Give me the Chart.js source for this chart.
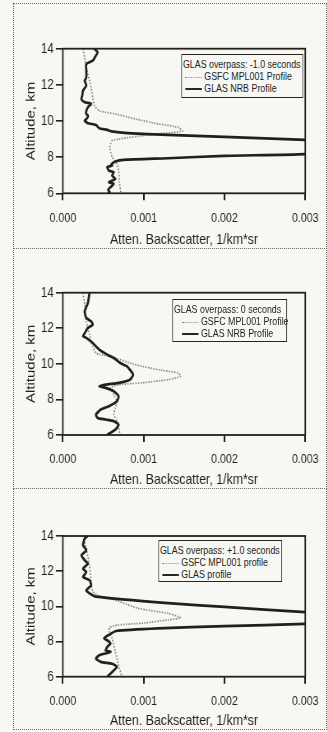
<!DOCTYPE html>
<html>
<head>
<meta charset="utf-8">
<script src="https://cdn.jsdelivr.net/npm/chart.js@4.4.1/dist/chart.umd.min.js"></script>
<style>
  body { margin: 0; background: #f7f7f4; width: 327px; height: 732px; overflow: hidden; position: relative;
         font-family: 'Liberation Sans', Arial, sans-serif; color: #221e17; }
  .panel { position: absolute; left: 14px; width: 312px; outline: 1px dotted #6d6a63; }
  /* the scanned figure is squeezed sideways: draw wide, then scale to 0.82 */
  .inner { position: absolute; left: 0; top: 0; width: 380.5px; height: 100%; transform: scaleX(0.82); transform-origin: 0 0; }
  .inner canvas { position: absolute; left: 0; top: 0; }
  .legend { position: absolute; border: 1.6px solid #2b261d; font-size: 10.8px; line-height: 12px;
            padding: 3px 1px 1px 1px; box-sizing: border-box; white-space: nowrap; background: #f7f7f4; }
  .legend .s { display: inline-block; width: 20px; vertical-align: middle; margin: 0 3px 0 3px; }
  .dot { border-top: 1.6px dotted #8a867e; }
  .sol { border-top: 2.2px solid #2b261d; }
</style>
</head>
<body>

<div class="panel" style="top:4px;height:244px">
  <div class="inner">
    <canvas id="c1"></canvas>
    <div class="legend" style="left:204px;top:50px;width:149px;height:44px">
      <div>GLAS overpass: -1.0 seconds</div>
      <div><span class="s dot"></span>GSFC MPL001 Profile</div>
      <div><span class="s sol"></span>GLAS NRB Profile</div>
    </div>
  </div>
</div>

<div class="panel" style="top:249px;height:239px">
  <div class="inner">
    <canvas id="c2"></canvas>
    <div class="legend" style="left:193px;top:50px;width:140px;height:43px">
      <div>GLAS overpass: 0 seconds</div>
      <div><span class="s dot" style="margin-left:10px"></span>GSFC MPL001 Profile</div>
      <div><span class="s sol" style="margin-left:10px"></span>GLAS NRB Profile</div>
    </div>
  </div>
</div>

<div class="panel" style="top:489px;height:240px">
  <div class="inner">
    <canvas id="c3"></canvas>
    <div class="legend" style="left:176px;top:51px;width:151px;height:42px">
      <div>GLAS overpass: +1.0 seconds</div>
      <div><span class="s dot"></span>GSFC MPL001 profile</div>
      <div><span class="s sol"></span>GLAS profile</div>
    </div>
  </div>
</div>

<script>
// backscatter values are in units of 1e-3 /km*sr, altitudes in km
const UNIT = 1e-3;
const xTicks = [0, 0.001, 0.002, 0.003];
const yTicks = [6, 8, 10, 12, 14];

// panel 1: -1.0 s
const altNrb1 = [14.0, 13.8, 13.55, 13.34, 13.15, 12.8, 12.4, 12.23, 11.96, 11.68, 11.4, 11.2, 11.04, 10.95, 10.76, 10.55,
                 10.39, 10.3, 10.15, 10.02, 9.88, 9.78, 9.6, 9.51, 9.43, 9.33, 9.23, 9.12, 8.96, 8.6, 8.17, 8.07, 7.94,
                 7.85, 7.76, 7.6, 7.54, 7.45, 7.26, 7.17, 6.98, 6.8, 6.62, 6.52, 6.34, 6.2, 6.07, 6.0];
const nrb1 = [0.39, 0.43, 0.40, 0.37, 0.29, 0.29, 0.29, 0.27, 0.29, 0.25, 0.24, 0.23, 0.27, 0.35, 0.31, 0.29,
              0.29, 0.31, 0.30, 0.27, 0.31, 0.41, 0.45, 0.55, 0.60, 0.80, 1.30, 2.0, 3.0, 4.5, 3.0, 2.0, 1.3,
              0.75, 0.65, 0.60, 0.61, 0.55, 0.57, 0.63, 0.61, 0.65, 0.57, 0.63, 0.59, 0.56, 0.58, 0.56];
const altMpl1 = [14.0, 13.5, 12.97, 12.6, 11.87, 11.3, 10.85, 10.57, 10.39, 10.12, 9.84, 9.66, 9.44, 9.29, 9.14,
                 8.92, 8.73, 8.55, 8.0, 7.7, 7.26, 6.6, 6.0];
const mpl1 = [0.25, 0.27, 0.29, 0.31, 0.35, 0.37, 0.39, 0.45, 0.65, 0.89, 1.18, 1.42, 1.48, 1.18, 0.90,
              0.61, 0.59, 0.58, 0.61, 0.66, 0.69, 0.70, 0.72];

// panel 2: 0 s
const altNrb2 = [14.0, 13.42, 12.95, 12.58, 12.39, 12.2, 12.02, 11.8, 11.55, 11.46, 11.17, 10.8, 10.52, 10.33, 10.05,
                 9.87, 9.67, 9.39, 9.11, 8.93, 8.83, 8.74, 8.65, 8.46, 8.18, 7.9, 7.62, 7.43, 7.15, 6.96, 6.87, 6.78,
                 6.58, 6.3, 6.02];
const nrb2 = [0.33, 0.31, 0.27, 0.29, 0.35, 0.37, 0.31, 0.28, 0.25, 0.29, 0.37, 0.45, 0.55, 0.63, 0.71,
              0.79, 0.83, 0.87, 0.83, 0.69, 0.53, 0.45, 0.53, 0.63, 0.69, 0.67, 0.57, 0.47, 0.41, 0.43, 0.53, 0.63,
              0.69, 0.65, 0.55];
const altMpl2 = [14.0, 13.33, 12.39, 11.64, 10.99, 10.61, 10.33, 9.96, 9.67, 9.49, 9.3, 9.11, 8.93, 8.83, 8.65,
                 8.27, 7.9, 7.52, 7.15, 6.78, 6.02];
const mpl2 = [0.25, 0.27, 0.29, 0.33, 0.37, 0.41, 0.65, 0.89, 1.18, 1.42, 1.46, 1.30, 0.97, 0.69, 0.59,
              0.63, 0.67, 0.65, 0.63, 0.67, 0.71];

// panel 3: +1.0 s
const altNrb3 = [14.0, 13.85, 13.47, 13.19, 12.9, 12.62, 12.43, 12.14, 11.95, 11.67, 11.48, 11.2, 10.91, 10.74, 10.55,
                 10.18, 9.97, 9.67, 9.35, 9.0, 8.88, 8.75, 8.6, 8.38, 8.19, 8.0, 7.88, 7.7, 7.5, 7.41, 7.22, 7.03,
                 6.84, 6.74, 6.56, 6.27, 6.0];
const nrb3 = [0.31, 0.27, 0.25, 0.29, 0.23, 0.27, 0.31, 0.25, 0.29, 0.25, 0.33, 0.35, 0.29, 0.33, 0.41,
              1.30, 2.0, 3.0, 4.5, 3.0, 2.0, 1.18, 0.66, 0.57, 0.51, 0.57, 0.59, 0.55, 0.53, 0.59, 0.45, 0.41,
              0.47, 0.61, 0.67, 0.61, 0.55];
const altMpl3 = [14.0, 13.28, 12.33, 11.4, 10.84, 10.55, 10.36, 9.89, 9.6, 9.35, 9.23, 9.05, 8.94, 8.8, 8.6,
                 8.16, 7.41, 6.65, 6.0];
const mpl3 = [0.25, 0.29, 0.33, 0.35, 0.37, 0.47, 0.65, 0.93, 1.30, 1.46, 1.30, 1.0, 0.68, 0.58, 0.57,
              0.61, 0.65, 0.69, 0.73];

const INK = '#241f18';
const GREY = '#8a867e';
const FONT = "'Liberation Sans', Arial, sans-serif";

const toPoints = (alts, vals) => alts.map((a, i) => ({ x: vals[i] * UNIT, y: a }));

// frame round the plot area (top and right sides too)
const plotBox = {
    id: 'plotBox',
    afterDatasetsDraw(chart) {
        const { ctx, chartArea: a } = chart;
        ctx.save();
        ctx.strokeStyle = INK;
        ctx.lineWidth = 1.8;
        ctx.strokeRect(a.left, a.top, a.right - a.left, a.bottom - a.top);
        ctx.restore();
    }
};

function profileChart(id, panelH, top, bottom, altN, nrb, altM, mpl) {
    const ctx = document.getElementById(id).getContext('2d');
    new Chart(ctx, {
        type: 'scatter',
        data: {
            datasets: [
                {
                    data: toPoints(altN, nrb),
                    showLine: true,
                    borderColor: INK,
                    borderWidth: 2.7,
                    pointRadius: 0,
                    tension: 0.2,
                },
                {
                    data: toPoints(altM, mpl),
                    showLine: true,
                    borderColor: GREY,
                    borderWidth: 1.7,
                    borderDash: [1.6, 1.6],
                    pointRadius: 0,
                    tension: 0.2,
                },
            ],
        },
        options: {
            responsive: true,
            maintainAspectRatio: false,
            animation: false,
            layout: { padding: { left: 0, top: top, right: 19, bottom: 0 } },
            plugins: { legend: { display: false }, tooltip: { enabled: false } },
            scales: {
                x: {
                    type: 'linear',
                    min: 0,
                    max: 0.003,
                    afterBuildTicks: (s) => { s.ticks = xTicks.map((v) => ({ value: v })); },
                    afterFit: (s) => { s.height = panelH - bottom; },
                    border: { display: false },
                    grid: { drawOnChartArea: false, tickLength: 7, color: INK, lineWidth: 2 },
                    ticks: {
                        color: INK,
                        padding: 10,
                        maxRotation: 0,
                        font: { family: FONT, size: 13 },
                        callback: (v) => v.toFixed(3),
                    },
                    title: {
                        display: true,
                        text: 'Atten. Backscatter, 1/km*sr',
                        color: INK,
                        font: { family: FONT, size: 15, lineHeight: 1 },
                        padding: { top: 0, bottom: 1 },
                    },
                },
                y: {
                    type: 'linear',
                    min: 6,
                    max: 14,
                    afterBuildTicks: (s) => { s.ticks = yTicks.map((v) => ({ value: v })); },
                    afterFit: (s) => { s.width = 59.4; },
                    border: { display: false },
                    grid: { drawOnChartArea: false, tickLength: 8.5, color: INK, lineWidth: 1.6 },
                    ticks: {
                        color: INK,
                        padding: 2.5,
                        font: { family: FONT, size: 14 },
                    },
                    title: {
                        display: true,
                        text: 'Altitude, km',
                        color: INK,
                        font: { family: FONT, size: 15, lineHeight: 1.2 },
                        padding: { top: 12, bottom: 0 },
                    },
                },
            },
        },
        plugins: [plotBox],
    });
}

profileChart('c1', 244, 44.7, 189.3, altNrb1, nrb1, altMpl1, mpl1);
profileChart('c2', 239, 43.7, 186, altNrb2, nrb2, altMpl2, mpl2);
profileChart('c3', 240, 47, 187.7, altNrb3, nrb3, altMpl3, mpl3);
</script>
</body>
</html>
